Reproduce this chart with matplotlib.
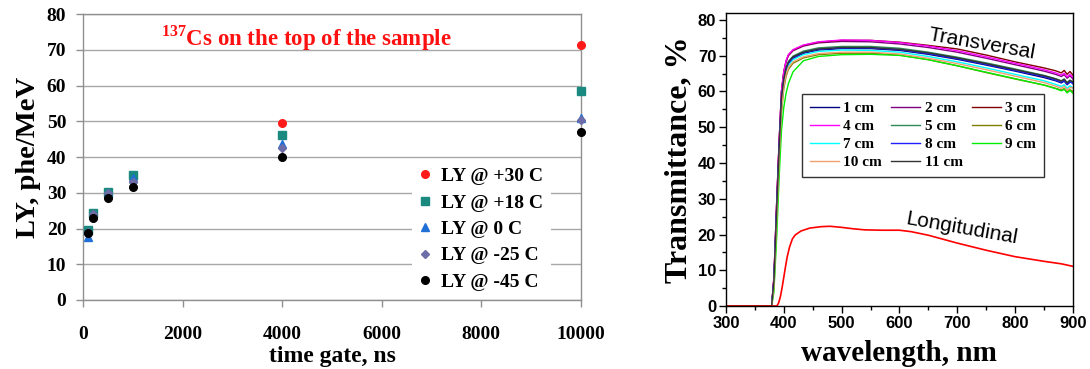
import matplotlib
matplotlib.use("Agg")
import matplotlib.pyplot as plt

# ---------------- Left panel data ----------------
gate_ns = [100, 200, 500, 1000, 4000, 10000]
ly_p30 = [19.0, 24.0, 30.0, 34.0, 49.5, 71.3]
ly_p18 = [19.6, 24.3, 30.2, 35.0, 46.2, 58.6]
ly_0 = [17.6, 23.8, 29.8, 34.0, 43.5, 50.8]
ly_m25 = [19.0, 24.0, 29.8, 33.1, 42.6, 50.4]
ly_m45 = [18.8, 23.0, 28.6, 31.7, 39.9, 47.1]
left_labels = ["LY @ +30 C", "LY @ +18 C", "LY @ 0 C", "LY @ -25 C", "LY @ -45 C"]
left_xticks = [0, 2000, 4000, 6000, 8000, 10000]
left_yticks = [0, 10, 20, 30, 40, 50, 60, 70, 80]

# ---------------- Right panel data ----------------
wl = [300, 379, 383, 388, 392, 396, 400, 404, 408, 416, 434, 460, 500, 550,
      600, 650, 700, 750, 800, 850, 870, 880, 885, 890, 895, 900]
t1 = [0, 0, 7, 28, 44, 57.5, 63.0, 66.1, 67.8, 69.3, 70.7, 71.6, 72.0, 72.0, 71.5, 70.4, 69.0, 67.4, 65.7, 63.9, 63.0, 62.4, 62.9, 61.9, 62.6, 62.5]
t2 = [0, 0, 8, 30, 46, 60, 65.3, 68.3, 70.0, 71.4, 72.7, 73.6, 74.0, 73.9, 73.3, 72.3, 71.0, 69.3, 67.5, 65.7, 64.8, 64.2, 64.7, 63.7, 64.4, 63.5]
t3 = [0, 0, 8, 30, 46, 60, 65.5, 68.5, 70.2, 71.6, 72.9, 73.8, 74.3, 74.3, 73.8, 72.9, 71.9, 70.2, 68.3, 66.6, 65.8, 65.2, 65.9, 64.8, 65.6, 64.6]
t4 = [0, 0, 8, 30, 46, 60, 65.5, 68.6, 70.3, 71.7, 73.0, 73.9, 74.4, 74.3, 73.7, 72.7, 71.4, 69.7, 67.9, 66.1, 65.2, 64.6, 65.1, 64.1, 64.8, 63.9]
t5 = [0, 0, 7, 28, 44, 58, 63.5, 66.6, 68.4, 69.9, 71.3, 72.2, 72.6, 72.6, 72.1, 71.0, 69.6, 68.0, 66.3, 64.5, 63.6, 63.0, 63.5, 62.5, 63.2, 62.2]
t6 = [0, 0, 5, 24, 40, 54, 60.8, 64.2, 66.2, 67.9, 69.4, 70.3, 70.7, 70.7, 70.2, 68.9, 67.2, 65.3, 63.5, 61.8, 60.9, 60.4, 60.8, 59.9, 60.5, 60.0]
t7 = [0, 0, 6, 26, 42, 56, 62.3, 65.5, 67.3, 68.9, 70.3, 71.2, 71.6, 71.5, 71.0, 69.8, 68.3, 66.6, 64.8, 63.0, 62.0, 61.4, 61.9, 60.9, 61.6, 61.0]
t8 = [0, 0, 7, 28, 44, 58, 63.3, 66.3, 68.0, 69.5, 70.9, 71.8, 72.2, 72.2, 71.7, 70.6, 69.2, 67.6, 65.9, 64.2, 63.2, 62.6, 63.1, 62.1, 62.8, 62.2]
t9 = [0, 0, 4, 20, 36, 49, 55.5, 59.5, 62.2, 65.5, 68.6, 69.8, 70.3, 70.4, 70.1, 68.9, 67.2, 65.4, 63.6, 61.8, 60.8, 60.2, 60.6, 59.6, 60.3, 59.5]
t10 = [0, 0, 5.5, 25, 41, 55, 61.5, 64.8, 66.7, 68.3, 69.7, 70.6, 71.0, 71.0, 70.5, 69.3, 67.8, 66.1, 64.3, 62.5, 61.5, 60.9, 61.4, 60.4, 61.1, 61.0]
t11 = [0, 0, 7, 28, 44, 58, 63.4, 66.5, 68.2, 69.7, 71.0, 71.9, 72.3, 72.3, 71.8, 70.8, 69.4, 67.8, 66.1, 64.4, 63.5, 62.9, 63.4, 62.4, 63.1, 62.8]
trans_labels = ["1 cm", "2 cm", "3 cm", "4 cm", "5 cm", "6 cm",
                "7 cm", "8 cm", "9 cm", "10 cm", "11 cm"]
trans_colors = ["#000080", "#800080", "#800000", "#ff00ff", "#2e8b57", "#808000",
                "#00ffff", "#2020ff", "#00ee00", "#f0a070", "#333333"]

wl_long = [300, 388, 391, 394, 397, 400, 403, 406, 410, 415, 420, 430, 445, 465,
           480, 500, 520, 540, 570, 600, 620, 650, 700, 750, 800, 850, 880, 900]
t_long = [0, 0, 0.8, 2.5, 5, 8, 11, 13.8, 16.5, 18.8, 19.9, 21, 21.8, 22.2,
          22.3, 22.0, 21.6, 21.3, 21.2, 21.2, 20.8, 19.8, 17.6, 15.6, 13.8, 12.5, 11.8, 11.1]

# ---------------- Figure ----------------
plt.rcParams['mathtext.fontset'] = 'custom'
plt.rcParams['mathtext.rm'] = 'Liberation Serif:bold'
plt.rcParams['mathtext.bf'] = 'Liberation Serif:bold'

fig = plt.figure(figsize=(10.9, 3.69), dpi=100)
serif = "Liberation Serif"
sans = "Liberation Sans"

# Left panel
ax1 = fig.add_axes([0.0761, 0.187, 0.4569, 0.775])
grid_c = "#a8a8a8"
series = [
    (ly_p30, "o", "#ff1a1a", 5.5),
    (ly_p18, "s", "#1a8a80", 5.5),
    (ly_0, "^", "#1f6fd6", 6),
    (ly_m25, "D", "#6c6ca8", 4.5),
    (ly_m45, "o", "#000000", 5.5),
]
handles = []
for (vals, m, c, ms), lab in zip(series, left_labels):
    h, = ax1.plot(gate_ns, vals, linestyle="none", marker=m, color=c,
                  markersize=ms, label=lab, clip_on=False, zorder=3)
    handles.append(h)
ax1.set_xlim(0, 10000)
ax1.set_ylim(0, 80)
ax1.set_xticks(left_xticks)
ax1.set_yticks(left_yticks)
ax1.grid(axis="y", color=grid_c, linewidth=1.0)
ax1.set_axisbelow(True)
for s in ax1.spines.values():
    s.set_color("#909090")
    s.set_linewidth(1.0)
ax1.tick_params(axis="both", colors="#909090", length=5, width=1.0)
ax1.tick_params(axis="x", pad=14)
ax1.tick_params(axis="y", pad=7)
for lab in ax1.get_xticklabels() + ax1.get_yticklabels():
    lab.set_fontfamily(serif)
    lab.set_fontweight("bold")
    lab.set_fontsize(14)
    lab.set_color("black")
ax1.set_xlabel("time gate, ns", fontfamily=serif, fontweight="bold", fontsize=17, labelpad=2)
ax1.set_ylabel("LY, phe/MeV", fontfamily=serif, fontweight="bold", fontsize=20.5, labelpad=4)
ax1.text(0.448, 0.915, r"$^{137}$Cs on the top of the sample", transform=ax1.transAxes,
         color="#ff1010", fontfamily=serif, fontweight="bold", fontsize=16.5,
         ha="center", va="center")
leg1 = ax1.legend(handles=handles, loc="upper left", bbox_to_anchor=(0.66, 0.49),
                  frameon=True, fancybox=False, edgecolor="none", facecolor="white",
                  framealpha=1.0, borderaxespad=0, borderpad=0.4,
                  prop={"family": serif, "weight": "bold", "size": 14},
                  handlelength=0.6, handletextpad=0.5, labelspacing=0.45)
leg1.set_zorder(2)

# Right panel
ax2 = fig.add_axes([0.666, 0.1707, 0.3183, 0.7945])
trans = [t1, t2, t3, t4, t5, t6, t7, t8, t9, t10, t11]
lines = []
for vals, c, lab in zip(trans, trans_colors, trans_labels):
    ln, = ax2.plot(wl, vals, color=c, linewidth=1.0, label=lab)
    lines.append(ln)
ax2.plot(wl_long, t_long, color="#ff0000", linewidth=1.2)
ax2.set_xlim(300, 900)
ax2.set_ylim(0, 82)
ax2.set_xticks([300, 400, 500, 600, 700, 800, 900])
ax2.set_xticks([350, 450, 550, 650, 750, 850], minor=True)
ax2.set_yticks([0, 10, 20, 30, 40, 50, 60, 70, 80])
ax2.set_yticks([5, 15, 25, 35, 45, 55, 65, 75], minor=True)
ax2.tick_params(axis="both", which="major", length=5, width=1.0, direction="out", pad=2)
ax2.tick_params(axis="both", which="minor", length=3, width=1.0, direction="out")
for s in ax2.spines.values():
    s.set_linewidth(1.0)
for lab in ax2.get_xticklabels() + ax2.get_yticklabels():
    lab.set_fontfamily(sans)
    lab.set_fontweight("bold")
    lab.set_fontsize(12)
ax2.set_xlabel("wavelength, nm", fontfamily=serif, fontweight="bold", fontsize=21, labelpad=7)
ax2.set_ylabel("Transmittance, %", fontfamily=serif, fontweight="bold", fontsize=23, labelpad=3)
ax2.text(0.738, 0.893, "Transversal", transform=ax2.transAxes, fontfamily=sans,
         fontsize=15, rotation=-10, ha="center", va="center")
ax2.text(0.68, 0.265, "Longitudinal", transform=ax2.transAxes, fontfamily=sans,
         fontsize=15, rotation=-10, ha="center", va="center")
order = [0, 3, 6, 9, 1, 4, 7, 10, 2, 5, 8]
leg2 = ax2.legend([lines[i] for i in order], [trans_labels[i] for i in order],
                  ncol=3, loc="upper left", bbox_to_anchor=(0.219, 0.7235),
                  frameon=True, fancybox=False, edgecolor="#333333", facecolor="white",
                  framealpha=1.0, borderaxespad=0, borderpad=0.5,
                  prop={"family": serif, "weight": "bold", "size": 11},
                  handlelength=1.9, handletextpad=0.3, columnspacing=0.6,
                  labelspacing=0.28)
leg2.get_frame().set_linewidth(1.0)

fig.savefig("out.png", dpi=100)
